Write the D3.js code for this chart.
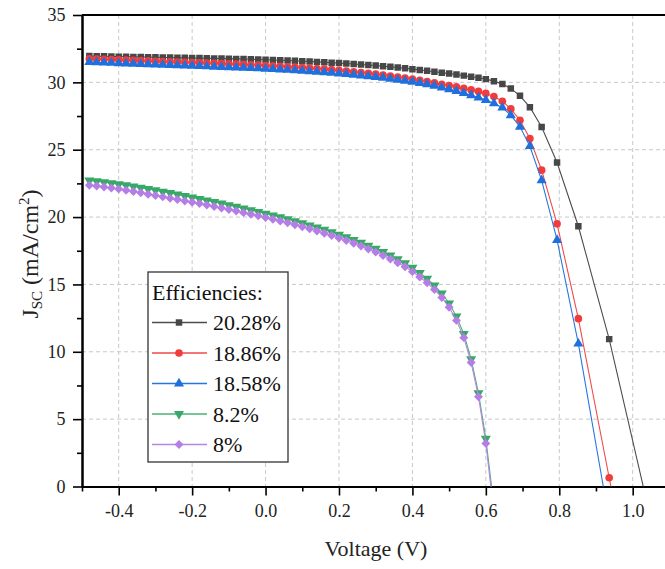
<!DOCTYPE html>
<html><head><meta charset="utf-8">
<script src="https://cdn.jsdelivr.net/npm/d3@7"></script>
<style>body{margin:0;background:#fff}svg{display:block}</style>
</head><body>
<svg id="c" width="665" height="569"></svg>
<script>
// Voltage grid of the three high-efficiency curves (V)
const vHigh = [-0.48,-0.46,-0.44,-0.42,-0.40,-0.38,-0.36,-0.34,-0.32,-0.30,-0.28,-0.26,-0.24,-0.22,-0.20,-0.18,-0.16,-0.14,-0.12,-0.10,-0.08,-0.06,-0.04,-0.02,0.00,0.02,0.04,0.06,0.08,0.10,0.12,0.14,0.16,0.18,0.20,0.22,0.24,0.26,0.28,0.30,0.32,0.34,0.36,0.38,0.40,0.42,0.44,0.46,0.48,0.50,0.52,0.54,0.56,0.58,0.60,0.622,0.645,0.668,0.693,0.72,0.752,0.794,0.852,0.936,1.05];
const j2028 = [31.95,31.94,31.93,31.92,31.91,31.90,31.89,31.88,31.87,31.86,31.85,31.84,31.83,31.82,31.81,31.80,31.79,31.78,31.77,31.76,31.74,31.73,31.71,31.70,31.68,31.66,31.64,31.62,31.60,31.57,31.55,31.52,31.49,31.46,31.43,31.40,31.36,31.33,31.29,31.25,31.20,31.15,31.10,31.04,30.98,30.92,30.86,30.79,30.72,30.65,30.58,30.50,30.42,30.34,30.24,30.09,29.87,29.55,29.00,28.16,26.69,24.05,19.32,10.94,-2.5];
const j1886 = [31.75,31.73,31.71,31.69,31.67,31.65,31.63,31.61,31.59,31.57,31.55,31.53,31.51,31.49,31.47,31.45,31.43,31.41,31.39,31.37,31.35,31.33,31.31,31.28,31.25,31.22,31.19,31.16,31.13,31.10,31.06,31.02,30.98,30.94,30.89,30.84,30.79,30.73,30.67,30.61,30.54,30.47,30.40,30.32,30.24,30.15,30.06,29.96,29.86,29.76,29.66,29.55,29.44,29.33,29.18,28.95,28.60,28.03,27.19,25.83,23.48,19.50,12.46,0.65,-15];
const j1858 = [31.50,31.48,31.46,31.44,31.42,31.40,31.38,31.36,31.34,31.32,31.30,31.28,31.26,31.24,31.22,31.20,31.18,31.16,31.14,31.12,31.10,31.08,31.06,31.04,31.01,30.98,30.95,30.92,30.89,30.86,30.82,30.78,30.74,30.70,30.66,30.61,30.56,30.51,30.45,30.39,30.33,30.26,30.19,30.12,30.04,29.95,29.85,29.74,29.62,29.49,29.35,29.20,29.04,28.87,28.68,28.45,28.12,27.56,26.70,25.26,22.73,18.30,10.60,-2.5,-20];
// Voltage grid of the two low-efficiency curves (V)
const vLow = [-0.48,-0.46,-0.44,-0.42,-0.40,-0.38,-0.36,-0.34,-0.32,-0.30,-0.28,-0.26,-0.24,-0.22,-0.20,-0.18,-0.16,-0.14,-0.12,-0.10,-0.08,-0.06,-0.04,-0.02,0.00,0.02,0.04,0.06,0.08,0.10,0.12,0.14,0.16,0.18,0.20,0.22,0.24,0.26,0.28,0.30,0.32,0.34,0.36,0.38,0.40,0.42,0.44,0.46,0.48,0.50,0.52,0.54,0.56,0.58,0.60,0.62];
const j82 = [22.72,22.66,22.59,22.52,22.44,22.36,22.27,22.18,22.09,21.99,21.89,21.79,21.68,21.57,21.46,21.35,21.24,21.13,21.01,20.89,20.77,20.65,20.52,20.39,20.26,20.13,19.99,19.85,19.70,19.55,19.39,19.23,19.06,18.88,18.70,18.51,18.31,18.10,17.88,17.65,17.41,17.15,16.88,16.58,16.24,15.86,15.43,14.93,14.33,13.60,12.62,11.32,9.46,6.93,3.55,-1.0];
const j8 = [22.36,22.30,22.23,22.16,22.08,21.99,21.90,21.80,21.70,21.60,21.50,21.40,21.30,21.20,21.10,21.00,20.89,20.78,20.67,20.56,20.45,20.33,20.21,20.09,19.97,19.84,19.71,19.57,19.43,19.28,19.13,18.97,18.80,18.63,18.45,18.26,18.06,17.85,17.63,17.40,17.15,16.89,16.61,16.31,15.95,15.55,15.12,14.62,14.03,13.30,12.33,11.05,9.20,6.66,3.20,-1.5];
const seriesNames = ["20.28%","18.86%","18.58%","8.2%","8%"];
const xTicks = [-0.4,-0.2,0.0,0.2,0.4,0.6,0.8,1.0];
const yTicks = [0,5,10,15,20,25,30,35];

const series = [
  {name: seriesNames[0], v: vHigh, j: j2028, color: "#474747", line: "#4d4d4d", sym: "square"},
  {name: seriesNames[1], v: vHigh, j: j1886, color: "#f23c3c", line: "#f04a4a", sym: "circle"},
  {name: seriesNames[2], v: vHigh, j: j1858, color: "#1f6fdc", line: "#2a76df", sym: "tri"},
  {name: seriesNames[3], v: vLow, j: j82, color: "#37a866", line: "#47b576", sym: "trid"},
  {name: seriesNames[4], v: vLow, j: j8, color: "#b57ee6", line: "#b784e6", sym: "diamond"}
];

const svg = d3.select("#c");
const L = 82, R = 669.4, T = 15, B = 486.5;
const x = d3.scaleLinear().domain([-0.5, 1.1]).range([L, R]);
const y = d3.scaleLinear().domain([0, 35]).range([B, T]);
const FONT = "'Liberation Serif', 'DejaVu Serif', serif";

svg.append("defs").append("clipPath").attr("id","clip")
  .append("rect").attr("x", L).attr("y", T).attr("width", R - L).attr("height", B - T);

// grid
const grid = svg.append("g");
grid.selectAll("line.gx").data(xTicks).join("line")
  .attr("x1", d => x(d)).attr("x2", d => x(d)).attr("y1", T).attr("y2", B)
  .attr("stroke", "#c8c8c8").attr("stroke-dasharray", "4,3").attr("stroke-width", 1);
grid.selectAll("line.gy").data(yTicks.filter(d => d > 0 && d < 35)).join("line")
  .attr("y1", d => y(d)).attr("y2", d => y(d)).attr("x1", L).attr("x2", R)
  .attr("stroke", "#c8c8c8").attr("stroke-dasharray", "4,3").attr("stroke-width", 1);

// axes
const xAxis = d3.axisBottom(x).tickValues(xTicks).tickFormat(d => d.toFixed(1)).tickSize(9).tickSizeOuter(0);
const xMinor = d3.axisBottom(x).tickValues(d3.range(-5, 11, 2).map(d => d / 10)).tickFormat("").tickSize(5).tickSizeOuter(0);
const yAxis = d3.axisLeft(y).tickValues(yTicks).tickFormat(d => String(d)).tickSize(9).tickSizeOuter(0);
const yMinor = d3.axisLeft(y).tickValues(d3.range(2.5, 35, 5)).tickFormat("").tickSize(5).tickSizeOuter(0);

function style(g){
  g.attr("font-family", null).attr("font-size", null);
  g.select(".domain").attr("stroke", "#000").attr("stroke-width", 2);
  g.selectAll(".tick line").attr("stroke", "#000").attr("stroke-width", 1.6);
  g.selectAll(".tick text").style("font-family", FONT).style("font-size", "18px").attr("fill", "#222");
}
svg.append("g").attr("transform", `translate(0,${B})`).call(xMinor).call(style);
const gx = svg.append("g").attr("transform", `translate(0,${B})`).call(xAxis).call(style);
gx.selectAll(".tick text").attr("dy", "1.0em");
svg.append("g").attr("transform", `translate(${L},0)`).call(yMinor).call(style);
const gy = svg.append("g").attr("transform", `translate(${L},0)`).call(yAxis).call(style);
gy.selectAll(".tick text").attr("dx", "-0.25em");

// top border
svg.append("line").attr("x1", L).attr("x2", R).attr("y1", T).attr("y2", T).attr("stroke", "#000").attr("stroke-width", 2);

// symbols
function symPath(s){
  if (s === "square") return d3.symbol(d3.symbolSquare, 42)();
  if (s === "circle") return d3.symbol(d3.symbolCircle, 46)();
  if (s === "tri") return d3.symbol(d3.symbolTriangle, 44)();
  if (s === "trid") return d3.symbol(d3.symbolTriangle, 44)();
  return d3.symbol(d3.symbolSquare, 40)();
}
function symRot(s){ return s === "trid" ? 180 : (s === "diamond" ? 45 : 0); }

const plot = svg.append("g").attr("clip-path", "url(#clip)");
const line = d3.line().x(d => x(d[0])).y(d => y(d[1]));
series.forEach(s => {
  const pts = s.v.map((v, i) => [v, s.j[i]]);
  const g = plot.append("g");
  g.append("path").attr("d", line(pts)).attr("fill", "none").attr("stroke", s.line).attr("stroke-width", 1.1);
  g.selectAll("path.m").data(pts.filter(p => p[1] >= 0)).join("path")
    .attr("class", "m")
    .attr("d", symPath(s.sym))
    .attr("transform", p => `translate(${x(p[0])},${y(p[1])}) rotate(${symRot(s.sym)})`)
    .attr("fill", s.color);
});

// legend
const lg = svg.append("g");
lg.append("rect").attr("x", 148).attr("y", 272).attr("width", 140).attr("height", 190)
  .attr("fill", "#fff").attr("stroke", "#333").attr("stroke-width", 1.3);
lg.append("text").attr("x", 152).attr("y", 300).style("font-family", FONT).style("font-size", "22px").attr("fill", "#111").text("Efficiencies:");
series.forEach((s, i) => {
  const cy = 322.5 + i * 30.5;
  lg.append("line").attr("x1", 152).attr("x2", 207).attr("y1", cy).attr("y2", cy).attr("stroke", s.line).attr("stroke-width", 1.3);
  lg.append("path").attr("d", symPath(s.sym)).attr("transform", `translate(179,${cy}) rotate(${symRot(s.sym)})`).attr("fill", s.color);
  lg.append("text").attr("x", 213).attr("y", cy + 7.5).style("font-family", FONT).style("font-size", "22px").attr("fill", "#111").text(s.name);
});

// axis titles
svg.append("text").attr("x", 376).attr("y", 556).attr("text-anchor", "middle")
  .style("font-family", FONT).style("font-size", "22px").attr("fill", "#222").text("Voltage (V)");
const yt = svg.append("text").attr("transform", "translate(38,254) rotate(-90)").attr("text-anchor", "middle")
  .style("font-family", FONT).style("font-size", "24px").attr("fill", "#222");
yt.append("tspan").text("J");
yt.append("tspan").style("font-size", "15px").attr("dy", 4).text("SC");
yt.append("tspan").attr("dy", -4).text(" (mA/cm");
yt.append("tspan").style("font-size", "15px").attr("dy", -9).text("2");
yt.append("tspan").attr("dy", 9).text(")");
</script>
</body></html>
